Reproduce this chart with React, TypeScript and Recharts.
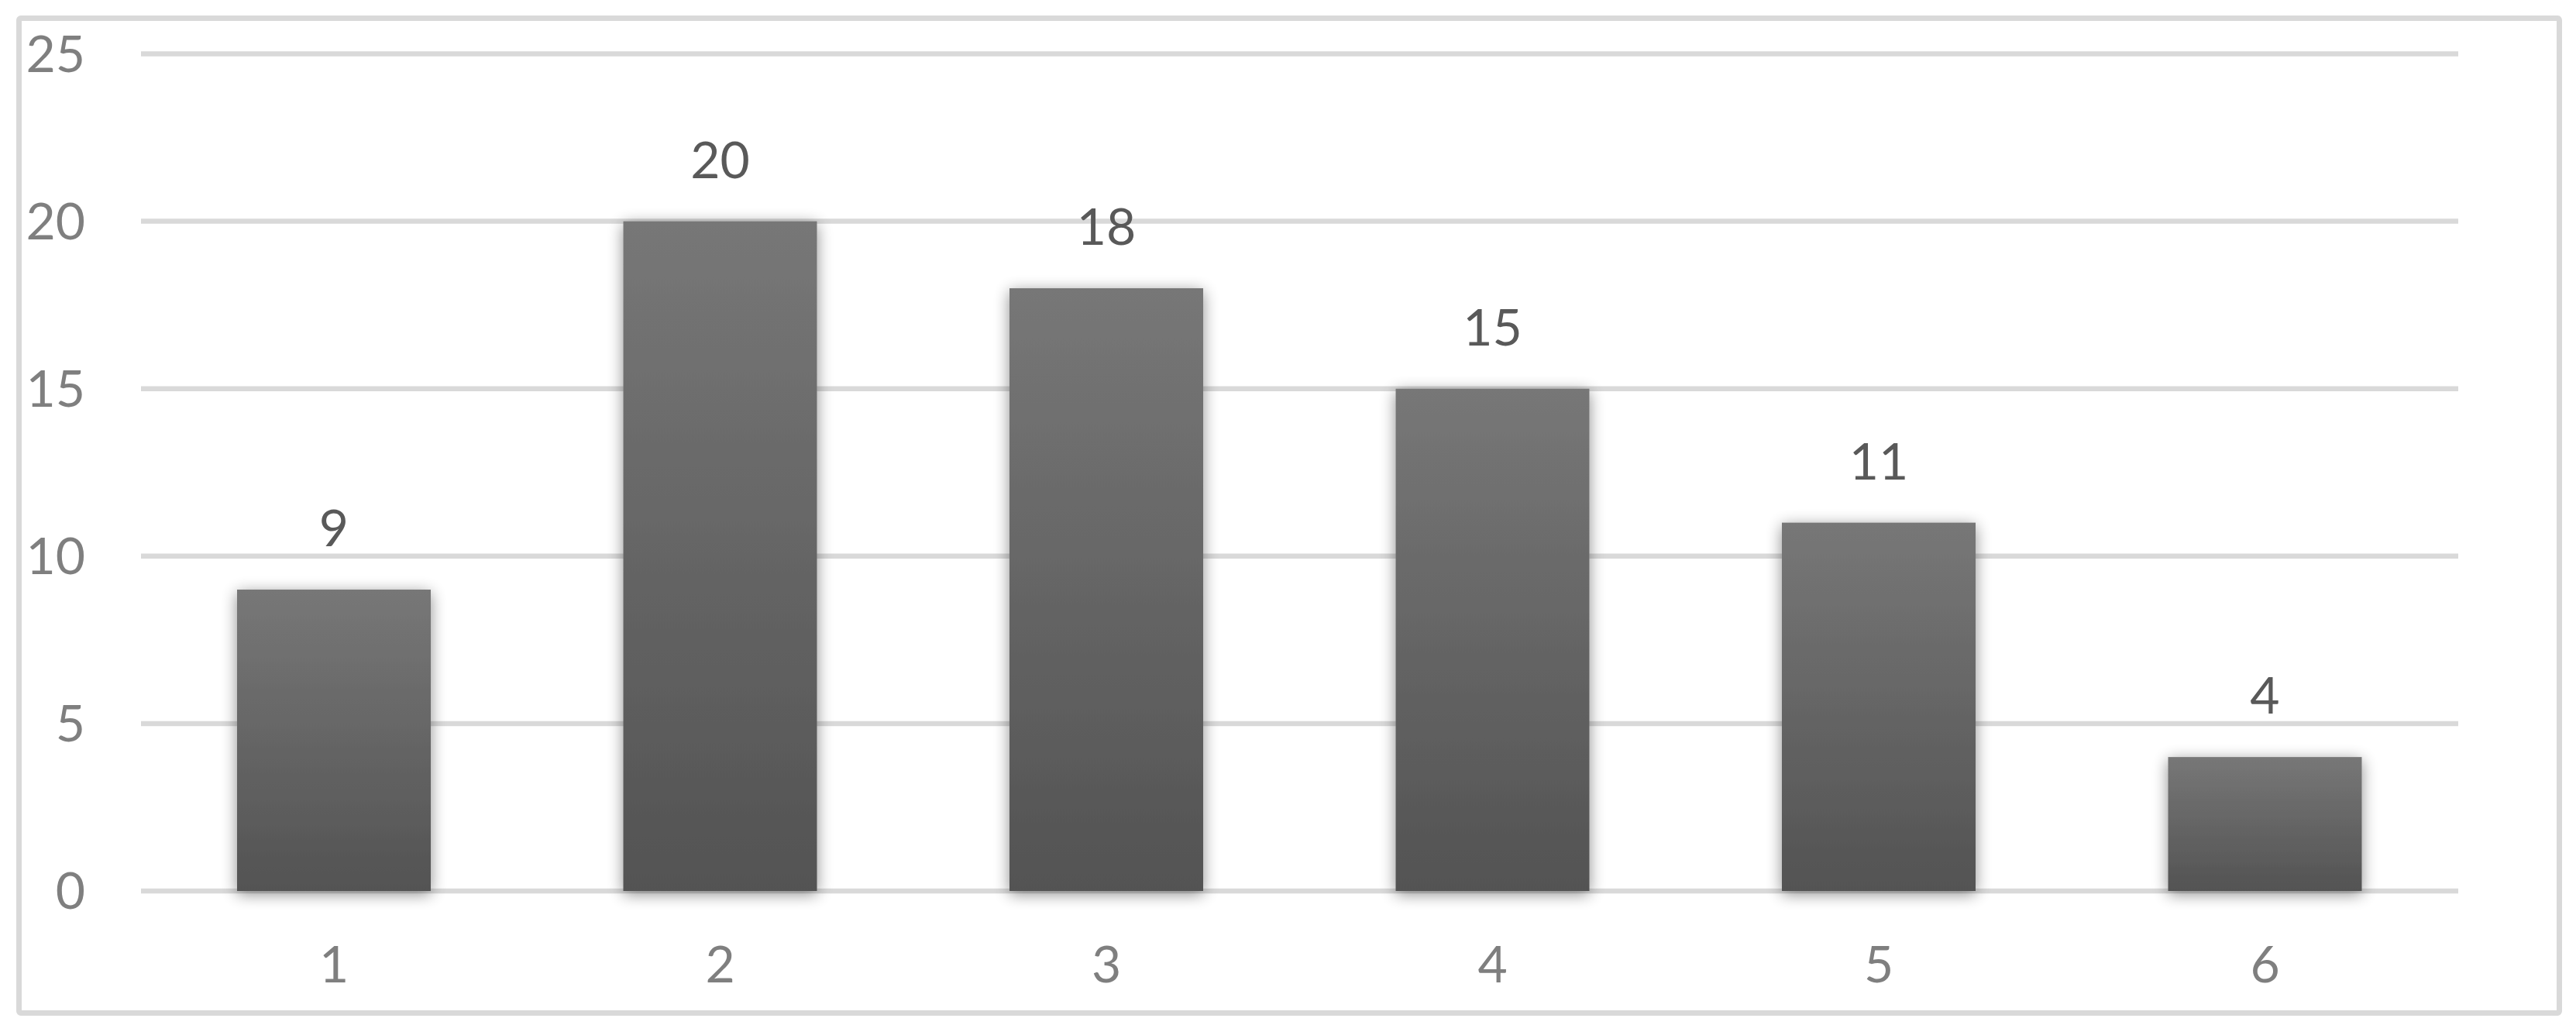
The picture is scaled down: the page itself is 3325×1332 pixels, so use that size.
import React from "react";
import { BarChart, Bar, XAxis, YAxis, CartesianGrid, LabelList } from "recharts";

const categories = ["1", "2", "3", "4", "5", "6"];
const counts = [9, 20, 18, 15, 11, 4];
const yTicks = [0, 5, 10, 15, 20, 25];

const FONT = "Lato, sans-serif";

// bar with the soft outer shadow and top-to-bottom gradient
const ShadowBar = (props: any) => {
  const { x, y, width, height } = props;
  if (!height) return null;
  return (
    <rect
      x={x}
      y={y}
      width={width}
      height={height}
      fill="url(#barFill)"
      filter="url(#barShadow)"
    />
  );
};

export default function App() {
  const data = categories.map((c, i) => ({ name: c, value: counts[i] }));

  return (
    <div style={{ position: "absolute", left: 0, top: 0, width: 3325, height: 1332, background: "#fff" }}>
      <div
        style={{
          position: "absolute",
          left: 21,
          top: 20,
          width: 3286,
          height: 1291,
          border: "7px solid #d9d9d9",
          borderRadius: 6,
          boxSizing: "border-box",
        }}
      />
      <div style={{ position: "absolute", left: 0, top: 0 }}>
        <BarChart
          width={3325}
          height={1332}
          data={data}
          margin={{ top: 69.5, right: 152, bottom: 0, left: 0 }}
        >
          <defs>
            <linearGradient id="barFill" x1="0" y1="0" x2="0" y2="1">
              <stop offset="0%" stopColor="#777777" />
              <stop offset="100%" stopColor="#535353" />
            </linearGradient>
            <filter id="barShadow" x="-30%" y="-20%" width="160%" height="140%">
              <feGaussianBlur in="SourceAlpha" stdDeviation="10" />
              <feOffset dx="0" dy="4" result="blur" />
              <feComponentTransfer>
                <feFuncA type="linear" slope="0.45" />
              </feComponentTransfer>
              <feMerge>
                <feMergeNode />
                <feMergeNode in="SourceGraphic" />
              </feMerge>
            </filter>
          </defs>
          <CartesianGrid vertical={false} stroke="#d9d9d9" strokeWidth={6.5} />
          <XAxis
            dataKey="name"
            height={182}
            axisLine={false}
            tickLine={false}
            tickSize={0}
            tickMargin={71}
            interval={0}
            tick={{ fill: "#7f7f7f", fontSize: 66, fontFamily: FONT }}
          />
          <YAxis
            domain={[0, 25]}
            ticks={yTicks}
            width={182}
            axisLine={false}
            tickLine={false}
            tickSize={0}
            tickMargin={72}
            tick={{ fill: "#7f7f7f", fontSize: 66, fontFamily: FONT }}
          />
          <Bar dataKey="value" isAnimationActive={false} barSize={250} shape={<ShadowBar />}>
            <LabelList
              dataKey="value"
              position="top"
              offset={56}
              fill="#595959"
              fontSize={66}
              fontFamily={FONT}
            />
          </Bar>
        </BarChart>
      </div>
    </div>
  );
}
